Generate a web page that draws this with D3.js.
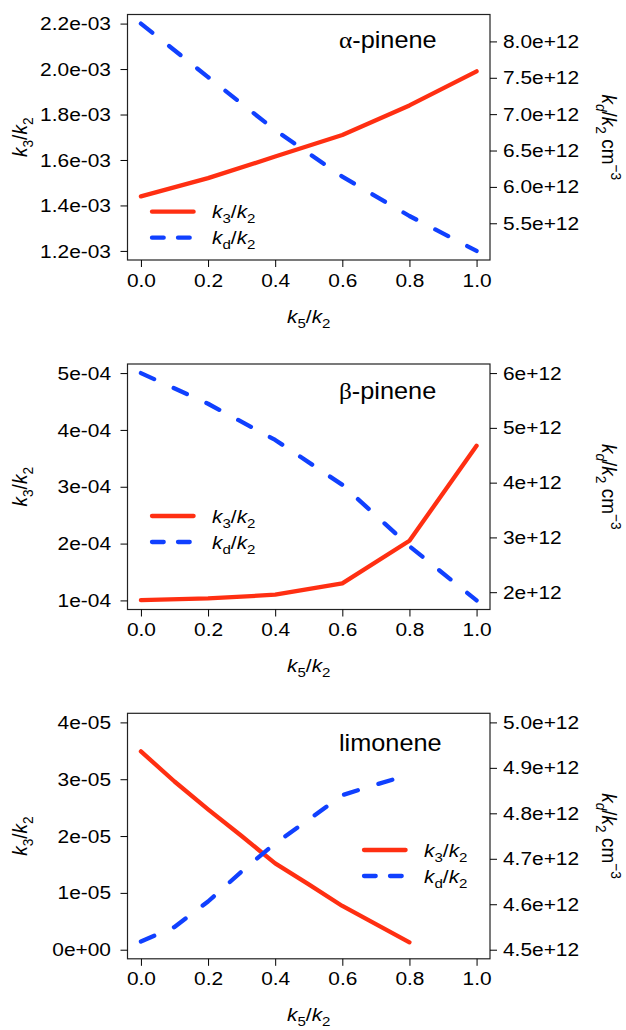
<!DOCTYPE html>
<html>
<head>
<meta charset="utf-8">
<script src="https://cdn.jsdelivr.net/npm/d3@7"></script>
<style>
  html, body { margin: 0; padding: 0; background: #fff; }
</style>
</head>
<body>
<svg id="chart" width="626" height="1030"></svg>
<script>
// k5/k2 values at which each model run was evaluated
const ratioSteps = [0, 0.2, 0.4, 0.6, 0.8, 1.0];
const ratioStepsLimonene = [0, 0.1, 0.2, 0.3, 0.4, 0.5, 0.6, 0.7, 0.8];

// alpha-pinene
const alphaK3 = [1.44e-3, 1.52e-3, 1.615e-3, 1.71e-3, 1.84e-3, 1.99e-3];
const alphaKd = [8.245e12, 7.51e12, 6.78e12, 6.14e12, 5.60e12, 5.12e12];
// beta-pinene
const betaK3 = [1.005e-4, 1.035e-4, 1.10e-4, 1.30e-4, 2.05e-4, 3.72e-4];
const betaKd = [6.0e12, 5.44e12, 4.78e12, 3.96e12, 2.84e12, 1.85e12];
// limonene
const limoK3 = [3.49e-5, 2.96e-5, 2.47e-5, 2.0e-5, 1.52e-5, 1.15e-5, 0.77e-5, 0.45e-5, 0.13e-5];
const limoKd = [4.518e12, 4.55e12, 4.606e12, 4.672e12, 4.734e12, 4.786e12, 4.84e12, 4.863e12, 4.885e12];

// tick values and their printed labels
const xTicks = [0, 0.2, 0.4, 0.6, 0.8, 1.0];
const xTickLabels = ["0.0", "0.2", "0.4", "0.6", "0.8", "1.0"];

const alphaLeftTicks = [1.2e-3, 1.4e-3, 1.6e-3, 1.8e-3, 2.0e-3, 2.2e-3];
const alphaLeftLabels = ["1.2e-03", "1.4e-03", "1.6e-03", "1.8e-03", "2.0e-03", "2.2e-03"];
const alphaRightTicks = [5.5e12, 6.0e12, 6.5e12, 7.0e12, 7.5e12, 8.0e12];
const alphaRightLabels = ["5.5e+12", "6.0e+12", "6.5e+12", "7.0e+12", "7.5e+12", "8.0e+12"];

const betaLeftTicks = [1e-4, 2e-4, 3e-4, 4e-4, 5e-4];
const betaLeftLabels = ["1e-04", "2e-04", "3e-04", "4e-04", "5e-04"];
const betaRightTicks = [2e12, 3e12, 4e12, 5e12, 6e12];
const betaRightLabels = ["2e+12", "3e+12", "4e+12", "5e+12", "6e+12"];

const limoLeftTicks = [0, 1e-5, 2e-5, 3e-5, 4e-5];
const limoLeftLabels = ["0e+00", "1e-05", "2e-05", "3e-05", "4e-05"];
const limoRightTicks = [4.5e12, 4.6e12, 4.7e12, 4.8e12, 4.9e12, 5.0e12];
const limoRightLabels = ["4.5e+12", "4.6e+12", "4.7e+12", "4.8e+12", "4.9e+12", "5.0e+12"];

const panelGreek = ["\u03b1", "\u03b2", ""];
const panelNames = ["-pinene", "-pinene", "limonene"];

// ---------------------------------------------------------------
const FONT = '"Liberation Sans", Arial, Helvetica, sans-serif';
const SERIF = '"Liberation Serif", "Times New Roman", serif';
const STRETCH = 1.1;          // glyphs are drawn a little wide
const TICK_FS = 19;
const TITLE_FS = 23;
const RED = "#ff2f12";
const BLUE = "#1040ff";

const boxL = 127.5, boxR = 490, boxH = 245.5;

// R-style 4% range extension
const pad = ([a, b]) => { const d = (b - a) * 0.04; return [a - d, b + d]; };

const panels = [
  {
    top: 14.5, x: ratioSteps, k3: alphaK3, kd: alphaKd,
    leftLim: [1.2e-3, 2.2e-3], rightLim: d3.extent(alphaKd),
    leftTicks: alphaLeftTicks, leftLabels: alphaLeftLabels,
    rightTicks: alphaRightTicks, rightLabels: alphaRightLabels,
    greek: panelGreek[0], name: panelNames[0], titleDy: 33,
    legX: 152, legDy: 197.2
  },
  {
    top: 364, x: ratioSteps, k3: betaK3, kd: betaKd,
    leftLim: [1e-4, 5e-4], rightLim: d3.extent(betaKd),
    leftTicks: betaLeftTicks, leftLabels: betaLeftLabels,
    rightTicks: betaRightTicks, rightLabels: betaRightLabels,
    greek: panelGreek[1], name: panelNames[1], titleDy: 35,
    legX: 152, legDy: 152
  },
  {
    top: 713.3, x: ratioStepsLimonene, k3: limoK3, kd: limoKd,
    leftLim: [0, 4e-5], rightLim: [4.5e12, 5.0e12],
    leftTicks: limoLeftTicks, leftLabels: limoLeftLabels,
    rightTicks: limoRightTicks, rightLabels: limoRightLabels,
    greek: panelGreek[2], name: panelNames[2], titleDy: 38,
    legX: 364, legDy: 136.7
  }
];

const labelK3 = [{ t: "k", it: 1 }, { t: "3", sub: 1 }, { t: "/" }, { t: "k", it: 1 }, { t: "2", sub: 1 }];
const labelKd = [{ t: "k", it: 1 }, { t: "d", sub: 1 }, { t: "/" }, { t: "k", it: 1 }, { t: "2", sub: 1 }];
const labelK5 = [{ t: "k", it: 1 }, { t: "5", sub: 1 }, { t: "/" }, { t: "k", it: 1 }, { t: "2", sub: 1 }];
const labelKdUnits = [{ t: "k", it: 1 }, { t: "d", sub: 1, it: 1 }, { t: "/" }, { t: "k", it: 1 }, { t: "2", sub: 1 },
                      { t: " cm" }, { t: "\u22123", sup: 1 }];

const svg = d3.select("#chart");
svg.append("rect").attr("width", 626).attr("height", 1030).attr("fill", "#fff");

// text with italic k's and sub/superscripts
function richText(parent, parts, size, anchor) {
  const t = parent.append("text")
    .attr("font-size", size).attr("font-family", FONT)
    .attr("fill", "#000").attr("text-anchor", anchor || "start");
  let shift = 0;
  parts.forEach(p => {
    const ts = t.append("tspan").text(p.t);
    const target = p.sub ? size * 0.27 : p.sup ? -size * 0.42 : 0;
    if (target !== shift) { ts.attr("dy", target - shift); shift = target; }
    if (p.sub || p.sup) ts.attr("font-size", size * 0.72);
    if (p.it) ts.attr("font-style", "italic");
  });
  return t;
}

function styleAxis(sel, stretch) {
  sel.select(".domain").remove();
  sel.attr("font-size", TICK_FS).attr("font-family", FONT);
  sel.selectAll(".tick line").attr("stroke", "#000").attr("stroke-width", 1);
  sel.selectAll(".tick text").attr("fill", "#000").attr("transform", `scale(${stretch},1)`);
}

panels.forEach(p => {
  const g = svg.append("g");
  const yTop = p.top, yBot = p.top + boxH;

  const x = d3.scaleLinear().domain(pad([0, 1])).range([boxL, boxR]);
  const yL = d3.scaleLinear().domain(pad(p.leftLim)).range([yBot, yTop]);
  const yR = d3.scaleLinear().domain(pad(p.rightLim)).range([yBot, yTop]);

  // series
  const lineL = d3.line().x(d => x(d[0])).y(d => yL(d[1]));
  const lineR = d3.line().x(d => x(d[0])).y(d => yR(d[1]));

  g.append("path")
    .datum(p.x.map((v, i) => [v, p.k3[i]]))
    .attr("d", lineL)
    .attr("fill", "none").attr("stroke", RED).attr("stroke-width", 4.3)
    .attr("stroke-linecap", "round").attr("stroke-linejoin", "round");

  g.append("path")
    .datum(p.x.map((v, i) => [v, p.kd[i]]))
    .attr("d", lineR)
    .attr("fill", "none").attr("stroke", BLUE).attr("stroke-width", 4.3)
    .attr("stroke-dasharray", "14.5 21.5")
    .attr("stroke-linecap", "round").attr("stroke-linejoin", "round");

  // frame
  g.append("rect")
    .attr("x", boxL).attr("y", yTop).attr("width", boxR - boxL).attr("height", boxH)
    .attr("fill", "none").attr("stroke", "#222").attr("stroke-width", 1.2);

  // axes
  g.append("g").attr("transform", `translate(${boxL},0)`)
    .call(d3.axisLeft(yL).tickValues(p.leftTicks).tickFormat((d, i) => p.leftLabels[i])
      .tickSize(7).tickPadding(8))
    .call(s => styleAxis(s, STRETCH));

  g.append("g").attr("transform", `translate(${boxR},0)`)
    .call(d3.axisRight(yR).tickValues(p.rightTicks).tickFormat((d, i) => p.rightLabels[i])
      .tickSize(7).tickPadding(4.8))
    .call(s => styleAxis(s, STRETCH));

  g.append("g").attr("transform", `translate(0,${yBot})`)
    .call(d3.axisBottom(x).tickValues(xTicks).tickFormat((d, i) => xTickLabels[i])
      .tickSize(7).tickPadding(6.2))
    .call(s => styleAxis(s, STRETCH));

  // axis titles
  const tl = g.append("g").attr("transform", `translate(27,${(yTop + yBot) / 2}) scale(${STRETCH},1) rotate(-90)`);
  richText(tl, labelK3, TICK_FS, "middle");

  const tr = g.append("g").attr("transform", `translate(602,${(yTop + yBot) / 2}) scale(${STRETCH},1) rotate(90)`);
  richText(tr, labelKdUnits, TICK_FS, "middle");

  const tb = g.append("g").attr("transform", `translate(${(boxL + boxR) / 2},${yTop + 308}) scale(${STRETCH},1)`);
  richText(tb, labelK5, TICK_FS, "middle");

  // panel name
  const tt = g.append("g").attr("transform", `translate(339,${yTop + p.titleDy}) scale(${STRETCH},1)`);
  const title = tt.append("text").attr("font-size", TITLE_FS).attr("font-family", FONT).attr("fill", "#000");
  if (p.greek) title.append("tspan").attr("font-family", SERIF).text(p.greek);
  title.append("tspan").text(p.name);

  // legend
  const ly1 = yTop + p.legDy, ly2 = ly1 + 26;
  g.append("line").attr("x1", p.legX).attr("x2", p.legX + 41.6).attr("y1", ly1).attr("y2", ly1)
    .attr("stroke", RED).attr("stroke-width", 4.3).attr("stroke-linecap", "round");
  g.append("line").attr("x1", p.legX).attr("x2", p.legX + 41.6).attr("y1", ly2).attr("y2", ly2)
    .attr("stroke", BLUE).attr("stroke-width", 4.3).attr("stroke-linecap", "round")
    .attr("stroke-dasharray", "11.7 14.3");

  const lt1 = g.append("g").attr("transform", `translate(${p.legX + 60},${ly1 + 6.6}) scale(${STRETCH},1)`);
  richText(lt1, labelK3, TICK_FS, "start");
  const lt2 = g.append("g").attr("transform", `translate(${p.legX + 60},${ly2 + 6.6}) scale(${STRETCH},1)`);
  richText(lt2, labelKd, TICK_FS, "start");
});
</script>
</body>
</html>
